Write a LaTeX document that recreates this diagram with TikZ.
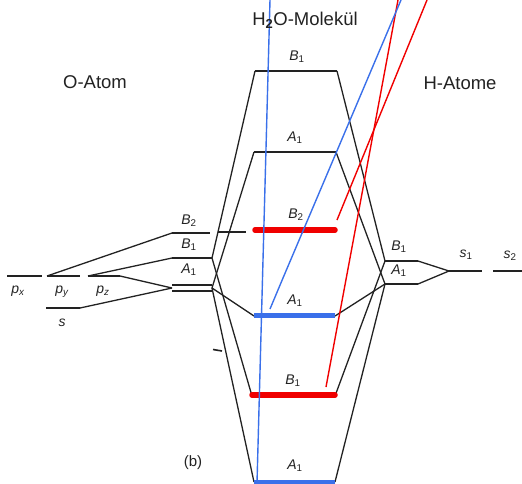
\documentclass[tikz,border=0pt]{standalone}
\usepackage{fontspec}
\setmainfont{Liberation Sans}
\usepackage{xcolor}
\usetikzlibrary{calc}
\definecolor{inkgray}{HTML}{222222}
\definecolor{markred}{HTML}{F00000}
\definecolor{markblue}{HTML}{3A70EA}
\tikzset{
  level/.style={inkgray,line width=2.5pt},
  conn/.style={inkgray,line width=1.3pt},
  lbl/.style={inkgray,font=\fontsize{14}{15}\selectfont\itshape,inner sep=0pt},
  title/.style={inkgray,font=\fontsize{18.5}{20}\selectfont,inner sep=0pt},
  redbar/.style={markred,line width=5.5pt,line cap=round},
  bluebar/.style={markblue,line width=5pt},
  redline/.style={markred,line width=1.4pt},
  blueline/.style={markblue,line width=1.4pt}
}
\newcommand{\sym}[2]{#1\textsubscript{\upshape#2}}
\newcommand{\orb}[2]{#1\textsubscript{#2}}

\begin{document}
\begin{tikzpicture}[x=1pt,y=-1pt]
  \useasboundingbox (0,0) rectangle (522,483);
  % energy levels: name / left x / right x / height
  \foreach \n/\xa/\xb/\y in {px/7/42/276,py/47/80/276,pz/88/120/276,os/46/80/308,
      oB2/172/210/233,oB1/172/212/258,oA1a/172/212/285,oA1b/172/212/291,
      mB1t/255/337/71,mA1t/254/336/152,mB2/255/335/231,mA1m/254/335/316,
      mB1b/252/335/396,mA1b/254/335/482,
      hB1/385/418/261,hA1/385/418/284,hs1/449/482/271,hs2/493/522/271} {
    \coordinate (\n-l) at (\xa,\y);
    \coordinate (\n-r) at (\xb,\y);
    \draw[level] (\n-l) -- (\n-r);
  }
  \coordinate (oA1-l) at (172,288);
  \coordinate (oA1-r) at (212,288);
  \draw[level,dash pattern=on 28pt off 10pt] (218,232) -- (250,232);
  \draw[inkgray,line width=1.6pt] (213,349.5) -- (222,351);

  % O-Atom
  \draw[conn] (py-l) -- (oB2-l);
  \draw[conn] (pz-l) -- (oB1-l);
  \draw[conn] (pz-r) -- (oA1-l);
  \draw[conn] (os-r) -- (oA1-l);
  \foreach \m in {mB1t,mB1b} \draw[conn] (oB1-r) -- (\m-l);
  \foreach \m in {mA1t,mA1m,mA1b} \draw[conn] (oA1-r) -- (\m-l);
  % H-Atome
  \foreach \m in {mB1t,mB1b} \draw[conn] (\m-r) -- (hB1-l);
  \foreach \m in {mA1t,mA1m,mA1b} \draw[conn] (\m-r) -- (hA1-l);
  \draw[conn] (hB1-r) -- (hs1-l) -- (hA1-r);

  % coloured marks
  \draw[redbar] ([yshift=1pt]mB2-l) -- ([yshift=1pt]mB2-r);
  \draw[redbar] ([yshift=1pt]mB1b-l) -- ([yshift=1pt]mB1b-r);
  \draw[bluebar] ([yshift=1pt]mA1m-l) -- ([yshift=1pt]mA1m-r);
  \draw[bluebar] ([yshift=0pt]mA1b-l) -- ([yshift=0pt]mA1b-r);
  \coordinate (redtopa) at (427,0);
  \coordinate (redtopb) at (398,0);
  \coordinate (bluetopa) at (270,0);
  \coordinate (bluetopb) at (401,0);
  \draw[redline] (redtopa) -- (337,220);
  \draw[redline] (redtopb) -- (326,387);
  \draw[blueline] (bluetopa) -- (257,483);
  \draw[blueline] (bluetopb) -- (283,278) .. controls (276,293) .. (270,309);

  % labels
  \node[lbl] (lmB1t) at (297,57) {\sym{B}{1}};
  \node[lbl] (lmA1t) at (295,138) {\sym{A}{1}};
  \node[lbl] (lmB2) at (296,215) {\sym{B}{2}};
  \node[lbl] (lmA1m) at (295,301) {\sym{A}{1}};
  \node[lbl] (lmB1b) at (293,381) {\sym{B}{1}};
  \node[lbl] (lmA1b) at (295,466) {\sym{A}{1}};
  \node[lbl] (loB2) at (189,221) {\sym{B}{2}};
  \node[lbl] (loB1) at (189,245) {\sym{B}{1}};
  \node[lbl] (loA1) at (189,270) {\sym{A}{1}};
  \node[lbl] (lpx) at (18,291) {\orb{p}{x}};
  \node[lbl] (lpy) at (62,292) {\orb{p}{y}};
  \node[lbl] (lpz) at (103,291) {\orb{p}{z}};
  \node[lbl] (los) at (62,323) {s};
  \node[lbl] (lhB1) at (399,247) {\sym{B}{1}};
  \node[lbl] (lhA1) at (399,271) {\sym{A}{1}};
  \node[lbl] (lhs1) at (466,255) {\sym{s}{1}};
  \node[lbl] (lhs2) at (510,256) {\sym{s}{2}};
  \node[title,font=\fontsize{15}{16}\selectfont] (lb) at (193,463) {(b)};
  \node[title] (tO) at (95,82) {O-Atom};
  \node[title] (tM) at (305,20) {H\textsubscript{\bfseries 2}O-Molekül};
  \node[title] (tH) at (460,83) {H-Atome};
\end{tikzpicture}
\end{document}
